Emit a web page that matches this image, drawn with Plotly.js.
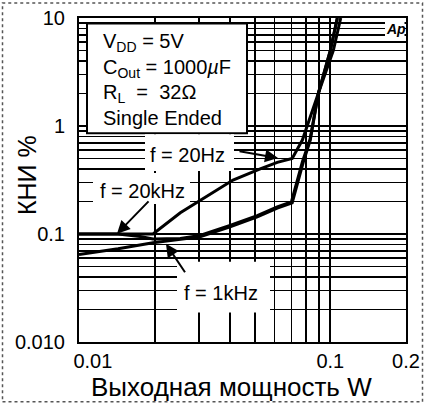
<!DOCTYPE html>
<html><head><meta charset="utf-8">
<script src="https://cdn.plot.ly/plotly-3.0.1.min.js"></script>
<style>html,body{margin:0;padding:0;background:#fff}</style>
</head><body><div id="chart" style="width:425px;height:405px"></div>
<script>
// Data (output power W, THD %)
const p20Hz   = [0.01, 0.0197, 0.0253, 0.0303, 0.041, 0.0526, 0.0615, 0.0705, 0.0774, 0.0896, 0.1028, 0.11];
const thd20Hz = [0.1, 0.1, 0.157, 0.205, 0.316, 0.40, 0.46, 0.50, 0.741, 2.01, 5.02, 10];
const p20kHz   = [0.01, 0.0143, 0.0175, 0.0197, 0.0253, 0.0303, 0.0399, 0.0512, 0.0615, 0.07, 0.0775, 0.083, 0.0896, 0.1, 0.1066];
const thd20kHz = [0.1, 0.1, 0.095, 0.09, 0.091, 0.097, 0.12, 0.148, 0.178, 0.198, 0.47, 0.75, 2.0, 5.0, 10];
const p1kHz   = [0.01, 0.0143, 0.0197, 0.0253, 0.0303, 0.0399, 0.0512, 0.0615, 0.0705, 0.078, 0.0832, 0.0896, 0.1, 0.1066];
const thd1kHz = [0.0645, 0.073, 0.083, 0.0885, 0.094, 0.1165, 0.144, 0.174, 0.194, 0.46, 0.74, 2.01, 5.0, 10];

const xTickVals = [0.01,0.02,0.03,0.04,0.05,0.06,0.07,0.08,0.09,0.1,0.2];
const xTickText = ['\u00a0\u00a0\u00a0\u00a0\u00a00.01','','','','','','','','','0.1','0.2'];
const yTickVals = [0.01,0.02,0.03,0.04,0.05,0.06,0.07,0.08,0.09,0.1,0.2,0.3,0.4,0.5,0.6,0.7,0.8,0.9,1,2,3,4,5,6,7,8,9,10];
const yTickText = yTickVals.map(v => v===0.01?'0.010':v===0.1?'0.1':v===1?'1':v===10?'10':'');

const xTitle = 'Выходная мощность W';
const yTitle = 'КНИ %';
const infoLines = ['V<sub>DD</sub> = 5V','C<sub>Out</sub> = 1000<i>µ</i>F','R<sub>L</sub> \u00a0= \u00a032Ω','Single Ended'];
const curveLabels = ['f = 20Hz','f = 20kHz','f = 1kHz'];

// pixel -> paper helpers (plot area 79..406 x 17.5..342.5)
const PX = x => (x-79)/327, PY = y => (342.5-y)/325;
const F = 'Liberation Sans, Arial, sans-serif';

const line = {color:'#000', width:3};
const traces = [
  {x:p20Hz, y:thd20Hz, mode:'lines', line:line, name:'20Hz'},
  {x:p20kHz, y:thd20kHz, mode:'lines', line:line, name:'20kHz'},
  {x:p1kHz, y:thd1kHz, mode:'lines', line:line, name:'1kHz'}
];

const whiteRect = (x0,y0,x1,y1,lw) => ({type:'rect', xref:'paper', yref:'paper', layer:'above',
  x0:PX(x0), x1:PX(x1), y0:PY(y1), y1:PY(y0), fillcolor:'#fff',
  line:{color: lw? '#000':'rgba(0,0,0,0)', width: lw||0}});

const shapes = [
  whiteRect(87,23,247,133,2),
  whiteRect(145,134,234,171),
  whiteRect(93,173,190,204),
  whiteRect(177,262,270,313),
  whiteRect(385,19,404.5,40),
  {type:'rect', xref:'paper', yref:'paper', layer:'above',
   x0:PX(2.5), x1:PX(422.5), y0:PY(402.5), y1:PY(2.5),
   line:{color:'#555', width:1.5, dash:'dot'}}
];

const ann = [];
const infoY = [42, 68, 93, 118];
infoLines.forEach((t,i)=>ann.push({xref:'paper', yref:'paper', x:PX(101), y:PY(infoY[i]),
  xanchor:'left', yanchor:'middle', text:t, showarrow:false, font:{family:F, size:20, color:'#000'}}));
const labPos = [[187,155],[142,191],[221,293]];
curveLabels.forEach((t,i)=>ann.push({xref:'paper', yref:'paper', x:PX(labPos[i][0]), y:PY(labPos[i][1]),
  xanchor:'center', yanchor:'middle', text:t, showarrow:false, font:{family:F, size:20, color:'#000'}}));
// arrows: [tailX, tailY, headX, headY]
const arrows = [[238,151,278,158],[150,200,117,234],[186,274,166,244]];
arrows.forEach(a=>ann.push({xref:'paper', yref:'paper', x:PX(a[2]), y:PY(a[3]), ax:a[0]-a[2], ay:a[1]-a[3],
  text:'', showarrow:true, arrowhead:2, arrowsize:1.3, arrowwidth:2, arrowcolor:'#000'}));
ann.push({xref:'paper', yref:'paper', x:PX(396), y:PY(29), xanchor:'center', yanchor:'middle', text:'<b><i>Ap</i></b>', showarrow:false,
  font:{family:F, size:14, color:'#000'}});
// axis titles
ann.push({xref:'paper', yref:'paper', x:PX(231), y:PY(388), xanchor:'center', yanchor:'middle', text:xTitle,
  showarrow:false, font:{family:F, size:26, color:'#000'}});
ann.push({xref:'paper', yref:'paper', x:PX(27), y:PY(175), xanchor:'center', yanchor:'middle', text:yTitle,
  textangle:-90, showarrow:false, font:{family:F, size:25, color:'#000'}});

const axisCommon = {type:'log', showgrid:true, gridcolor:'#000', gridwidth:1.8, zeroline:false,
  showline:true, mirror:true, linecolor:'#000', linewidth:2, ticks:'', tickfont:{family:F, size:20, color:'#000'}};

const layout = {
  width:425, height:405, margin:{l:79, r:19, t:17.5, b:62.5},
  paper_bgcolor:'#fff', plot_bgcolor:'#fff', showlegend:false,
  xaxis: Object.assign({}, axisCommon, {range:[-2, Math.log10(0.2)], tickmode:'array', tickvals:xTickVals, ticktext:xTickText,
    ticklabelstandoff:0, automargin:false}),
  yaxis: Object.assign({}, axisCommon, {range:[-2, 1], tickmode:'array', tickvals:yTickVals, ticktext:yTickText,
    ticklabelstandoff:8, automargin:false}),
  shapes:shapes, annotations:ann
};
Plotly.newPlot('chart', traces, layout, {staticPlot:true, displayModeBar:false});
</script></body></html>
